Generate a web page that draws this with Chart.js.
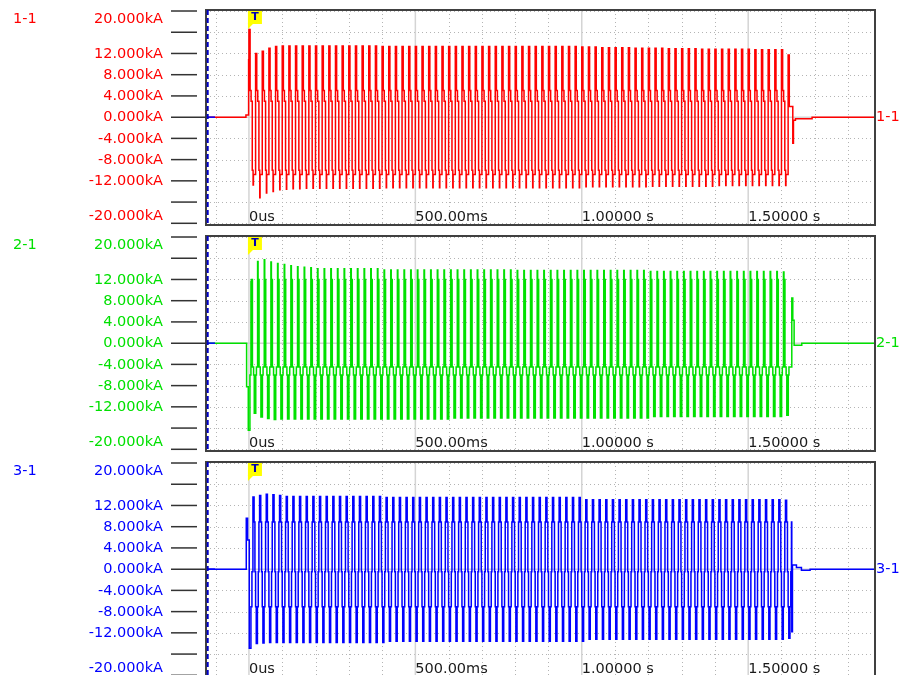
<!DOCTYPE html>
<html>
<head>
<meta charset="utf-8">
<title>Recorder</title>
<script src="https://cdn.jsdelivr.net/npm/chart.js@4.4.0/dist/chart.umd.min.js"></script>
<style>
  html, body { margin: 0; padding: 0; background: #fff; overflow: hidden; }
  .panel { position: relative; width: 901px; height: 226px; }
</style>
</head>
<body>
<div class="panel"><canvas id="ch1"></canvas></div>
<div class="panel"><canvas id="ch2"></canvas></div>
<div class="panel"><canvas id="ch3"></canvas></div>
<script>
// === Axes / labels ===
const channelNames = ['1-1', '2-1', '3-1'];
const channelColors = ['#ff0000', '#00e000', '#0000ff'];
const yTicks = [20, 16, 12, 8, 4, 0, -4, -8, -12, -16, -20];
const yTickLabels = ['20.000kA', '', '12.000kA', '8.000kA', '4.000kA', '0.000kA',
                     '-4.000kA', '-8.000kA', '-12.000kA', '', '-20.000kA'];
const timeTicks = [0, 0.5, 1.0, 1.5];
const timeTickLabels = ['0us', '500.00ms', '1.00000 s', '1.50000 s'];
const timeMinorTicks = [-0.1, 0.1, 0.2, 0.3, 0.4, 0.6, 0.7, 0.8, 0.9,
                        1.1, 1.2, 1.3, 1.4, 1.6, 1.7, 1.8];
const timeMin = -0.129, timeMax = 1.881;
const ampMin = -20.32, ampMax = 20.19;

// one 50 Hz cycle (seconds)
const cyclePeriod = 0.02;

// === Waveform shape of one cycle: step lengths (ms) and levels (kA), H/L = cycle peak ===
const redStepMs = [3.5, 3, 3.5, 2.5, 1.0, 6.5];
const redLevels = ['H', 5, 3, -10, 'L', -10.8];
const greenStepMs = [1.5, 3, 3.5, 2, 4.5, 2, 3.5];
const greenLevels = ['H', 12, -4.5, -6, 'L', -6, -4.5];
const blueStepMs = [3.5, 2.5, 2, 2, 3.5, 2.5, 2, 2];
const blueLevels = ['H', 8.9, -0.5, -7.1, 'L', -7.1, -0.5, 8.9];

// === Cycle peaks (kA), read per cycle ===
const redHighs = [
  16.5, 12.0, 12.4, 13.0, 13.3, 13.4, 13.4, 13.4, 13.4, 13.4,
  13.4, 13.4, 13.4, 13.4, 13.4, 13.4, 13.4, 13.4, 13.4, 13.4,
  13.3, 13.3, 13.3, 13.3, 13.3, 13.3, 13.3, 13.3, 13.3, 13.3,
  13.3, 13.3, 13.3, 13.3, 13.3, 13.3, 13.3, 13.3, 13.3, 13.3,
  13.3, 13.3, 13.3, 13.3, 13.3, 13.3, 13.3, 13.3, 13.3, 13.3,
  13.2, 13.2, 13.2, 13.1, 13.1, 13.1, 13.1, 13.1, 13.0, 13.0,
  13.0, 13.0, 13.0, 12.9, 12.9, 12.9, 12.9, 12.9, 12.8, 12.8,
  12.8, 12.8, 12.8, 12.8, 12.8, 12.8, 12.7, 12.7, 12.7, 12.7,
  12.7
];
const redLows = [
  -12.8, -15.2, -14.3, -14.0, -13.7, -13.6, -13.5, -13.5, -13.4, -13.4,
  -13.4, -13.4, -13.4, -13.4, -13.4, -13.4, -13.4, -13.4, -13.4, -13.4,
  -13.3, -13.3, -13.3, -13.3, -13.3, -13.3, -13.3, -13.3, -13.3, -13.3,
  -13.3, -13.3, -13.3, -13.3, -13.3, -13.3, -13.3, -13.3, -13.3, -13.3,
  -13.3, -13.3, -13.3, -13.3, -13.3, -13.3, -13.3, -13.3, -13.3, -13.3,
  -13.1, -13.1, -13.1, -13.1, -13.1, -13.1, -13.1, -13.1, -13.1, -13.1,
  -13.0, -13.0, -13.0, -13.0, -13.0, -13.0, -13.0, -13.0, -13.0, -13.0,
  -12.9, -12.9, -12.9, -12.9, -12.9, -12.9, -12.9, -12.9, -12.9, -12.9,
  -12.9
];
const greenHighs = [
  11.6, 15.4, 15.7, 15.3, 15.0, 14.8, 14.6, 14.4, 14.3, 14.2,
  14.0, 14.0, 14.0, 14.0, 14.0, 14.0, 14.0, 14.0, 14.0, 14.0,
  13.8, 13.8, 13.8, 13.8, 13.8, 13.8, 13.8, 13.8, 13.8, 13.8,
  13.8, 13.8, 13.8, 13.8, 13.8, 13.8, 13.8, 13.8, 13.8, 13.8,
  13.7, 13.7, 13.7, 13.7, 13.7, 13.7, 13.7, 13.7, 13.7, 13.7,
  13.7, 13.7, 13.7, 13.7, 13.7, 13.7, 13.7, 13.7, 13.7, 13.7,
  13.5, 13.5, 13.5, 13.5, 13.5, 13.5, 13.5, 13.5, 13.5, 13.5,
  13.5, 13.5, 13.5, 13.5, 13.5, 13.5, 13.5, 13.5, 13.5, 13.5,
  13.4
];
const greenLows = [
  -13.2, -13.9, -14.2, -14.4, -14.3, -14.3, -14.3, -14.3, -14.3, -14.3,
  -14.3, -14.3, -14.3, -14.3, -14.3, -14.3, -14.3, -14.3, -14.3, -14.3,
  -14.3, -14.3, -14.3, -14.3, -14.3, -14.3, -14.3, -14.3, -14.3, -14.3,
  -14.1, -14.1, -14.1, -14.1, -14.1, -14.1, -14.1, -14.1, -14.1, -14.1,
  -14.1, -14.1, -14.1, -14.1, -14.1, -14.1, -14.1, -14.1, -14.1, -14.1,
  -14.1, -14.1, -14.1, -14.1, -14.1, -14.1, -14.1, -14.1, -14.1, -14.1,
  -13.8, -13.8, -13.8, -13.8, -13.8, -13.8, -13.8, -13.8, -13.8, -13.8,
  -13.8, -13.8, -13.8, -13.8, -13.8, -13.8, -13.8, -13.8, -13.8, -13.8,
  -13.6
];
const blueHighs = [
  13.6, 13.9, 14.1, 14.0, 13.9, 13.7, 13.7, 13.7, 13.7, 13.7,
  13.7, 13.7, 13.7, 13.7, 13.7, 13.7, 13.7, 13.7, 13.7, 13.7,
  13.5, 13.5, 13.5, 13.5, 13.5, 13.5, 13.5, 13.5, 13.5, 13.5,
  13.5, 13.5, 13.5, 13.5, 13.5, 13.5, 13.5, 13.5, 13.5, 13.5,
  13.5, 13.5, 13.5, 13.5, 13.5, 13.5, 13.5, 13.5, 13.5, 13.5,
  13.1, 13.1, 13.1, 13.1, 13.1, 13.1, 13.1, 13.1, 13.1, 13.1,
  13.1, 13.1, 13.1, 13.1, 13.1, 13.1, 13.1, 13.1, 13.1, 13.1,
  13.1, 13.1, 13.1, 13.1, 13.1, 13.1, 13.1, 13.1, 13.1, 13.1,
  13.0
];
const blueLows = [
  -14.0, -13.9, -13.8, -13.8, -13.8, -13.8, -13.8, -13.8, -13.8, -13.8,
  -13.8, -13.8, -13.8, -13.8, -13.8, -13.8, -13.8, -13.8, -13.8, -13.8,
  -13.6, -13.6, -13.6, -13.6, -13.6, -13.6, -13.6, -13.6, -13.6, -13.6,
  -13.6, -13.6, -13.6, -13.6, -13.6, -13.6, -13.6, -13.6, -13.6, -13.6,
  -13.6, -13.6, -13.6, -13.6, -13.6, -13.6, -13.6, -13.6, -13.6, -13.6,
  -13.2, -13.2, -13.2, -13.2, -13.2, -13.2, -13.2, -13.2, -13.2, -13.2,
  -13.2, -13.2, -13.2, -13.2, -13.2, -13.2, -13.2, -13.2, -13.2, -13.2,
  -13.2, -13.2, -13.2, -13.2, -13.2, -13.2, -13.2, -13.2, -13.2, -13.2,
  -13.0
];

// === Start / end of the record: [time s, level kA] ===
const redCycleStart = 0.000;
const redLead = [[-0.129, 0], [-0.009, 0.4], [-0.001, 10.8]];
const redTail = [[1.620, 11.7], [1.6235, 2.0], [1.634, -4.9], [1.636, -0.6],
                 [1.642, -0.3], [1.692, 0], [1.881, 0]];
const greenCycleStart = 0.006;
const greenLead = [[-0.129, 0], [-0.007, -8.2], [-0.002, -16.4], [0.003, -6]];
const greenTail = [[1.631, 8.5], [1.634, 4.3], [1.638, -0.4], [1.661, 0], [1.881, 0]];
const blueCycleStart = 0.012;
const blueLead = [[-0.129, 0], [-0.008, 9.6], [-0.004, 5.5], [0.001, -14.9],
                  [0.006, -7.1], [0.009, -0.5]];
const blueTail = [[1.631, -11.8], [1.633, 0.8], [1.645, 0.3], [1.660, -0.2],
                  [1.686, 0], [1.881, 0]];

const FONT = '14.5px "DejaVu Sans", Verdana, sans-serif';

function buildTrace(lead, start, stepMs, levels, highs, lows, tail) {
    const pts = lead.map(([t, v]) => ({ x: t, y: v }));
    highs.forEach((hi, k) => {
        let t = start + k * cyclePeriod;
        levels.forEach((lv, i) => {
            const v = lv === 'H' ? hi : (lv === 'L' ? lows[k] : lv);
            pts.push({ x: t, y: v });
            t += stepMs[i] / 1000;
        });
    });
    tail.forEach(([t, v]) => pts.push({ x: t, y: v }));
    return pts;
}

function line(ctx, x1, y1, x2, y2) {
    ctx.beginPath();
    ctx.moveTo(x1, y1);
    ctx.lineTo(x2, y2);
    ctx.stroke();
}

// decoration of one scope panel (grid, frame, axis labels, trigger tag)
function scopePlugin(idx) {
    const color = channelColors[idx];
    return {
        id: 'scope' + idx,
        beforeDatasetsDraw(chart) {
            const { ctx, chartArea: a, scales: { x, y } } = chart;
            ctx.save();
            ctx.strokeStyle = '#b4b4b4';
            ctx.lineWidth = 1;
            ctx.setLineDash([1, 3]);
            timeMinorTicks.forEach(t => {
                const px = Math.round(x.getPixelForValue(t)) + 0.5;
                line(ctx, px, a.top, px, a.bottom);
            });
            yTicks.forEach(v => {
                if (v === 0) return;
                const py = Math.round(y.getPixelForValue(v)) + 0.5;
                line(ctx, a.left, py, a.right, py);
            });
            ctx.setLineDash([]);
            ctx.strokeStyle = '#d4d4d4';
            ctx.lineWidth = 1.5;
            timeTicks.forEach(t => {
                const px = x.getPixelForValue(t);
                line(ctx, px, a.top, px, a.bottom);
            });
            const py0 = y.getPixelForValue(0);
            line(ctx, a.left, py0, a.right, py0);
            ctx.restore();
        },
        afterDatasetsDraw(chart) {
            const { ctx, chartArea: a, scales: { x, y } } = chart;
            const py0 = y.getPixelForValue(0);
            ctx.save();
            // cursor stub at the left edge
            ctx.strokeStyle = '#0000ff';
            ctx.lineWidth = 1.5;
            line(ctx, a.left, py0, a.left + 9, py0);

            // frame
            ctx.strokeStyle = '#404040';
            ctx.lineWidth = 2;
            ctx.strokeRect(a.left, a.top, a.right - a.left, a.bottom - a.top);
            ctx.strokeStyle = '#0000c8';
            ctx.setLineDash([5, 3]);
            line(ctx, a.left + 1.7, a.top, a.left + 1.7, a.bottom);
            ctx.setLineDash([]);

            // y tick marks + labels
            ctx.strokeStyle = '#333';
            ctx.lineWidth = 1.5;
            ctx.font = FONT;
            ctx.fillStyle = color;
            ctx.textAlign = 'right';
            ctx.textBaseline = 'middle';
            yTicks.forEach((v, i) => {
                const py = y.getPixelForValue(v);
                line(ctx, a.left - 35, py, v === 0 ? a.left : a.left - 9, py);
                const ly = Math.min(Math.max(py, a.top + 9), a.bottom - 9.5);
                if (yTickLabels[i]) ctx.fillText(yTickLabels[i], a.left - 43, ly + 0.5);
            });

            // channel names
            ctx.textAlign = 'left';
            ctx.fillText(channelNames[idx], 13, a.top + 9);
            ctx.fillText(channelNames[idx], a.right + 1, py0 + 0.5);

            // time labels
            ctx.fillStyle = '#1a1a1a';
            ctx.textBaseline = 'alphabetic';
            timeTicks.forEach((t, i) => {
                ctx.fillText(timeTickLabels[i], x.getPixelForValue(t), a.bottom - 4.5);
            });

            // trigger tag
            const tx = x.getPixelForValue(0);
            ctx.fillStyle = '#ffff00';
            ctx.fillRect(tx - 1, a.top + 1, 14, 13);
            ctx.beginPath();
            ctx.moveTo(tx - 1, a.top + 13);
            ctx.lineTo(tx + 5, a.top + 13);
            ctx.lineTo(tx - 1, a.top + 19);
            ctx.closePath();
            ctx.fill();
            ctx.fillStyle = '#0000b4';
            ctx.font = 'bold 11px "DejaVu Sans", sans-serif';
            ctx.textAlign = 'center';
            ctx.textBaseline = 'middle';
            ctx.fillText('T', tx + 6, a.top + 7.5);
            ctx.restore();
        }
    };
}

function makeScope(canvasId, idx, points) {
    const ctx = document.getElementById(canvasId).getContext('2d');
    return new Chart(ctx, {
        type: 'line',
        data: {
            datasets: [{
                label: channelNames[idx],
                data: points,
                borderColor: channelColors[idx],
                borderWidth: 1.5,
                pointRadius: 0,
                stepped: true,
                fill: false
            }]
        },
        options: {
            responsive: true,
            maintainAspectRatio: false,
            animation: false,
            parsing: false,
            normalized: true,
            devicePixelRatio: 1,
            layout: { padding: { left: 206, right: 26, top: 10, bottom: 1 } },
            scales: {
                x: { type: 'linear', min: timeMin, max: timeMax, display: false },
                y: { type: 'linear', min: ampMin, max: ampMax, display: false }
            },
            plugins: {
                legend: { display: false },
                tooltip: { enabled: false }
            }
        },
        plugins: [scopePlugin(idx)]
    });
}

makeScope('ch1', 0, buildTrace(redLead, redCycleStart, redStepMs, redLevels, redHighs, redLows, redTail));
makeScope('ch2', 1, buildTrace(greenLead, greenCycleStart, greenStepMs, greenLevels, greenHighs, greenLows, greenTail));
makeScope('ch3', 2, buildTrace(blueLead, blueCycleStart, blueStepMs, blueLevels, blueHighs, blueLows, blueTail));
</script>
</body>
</html>
